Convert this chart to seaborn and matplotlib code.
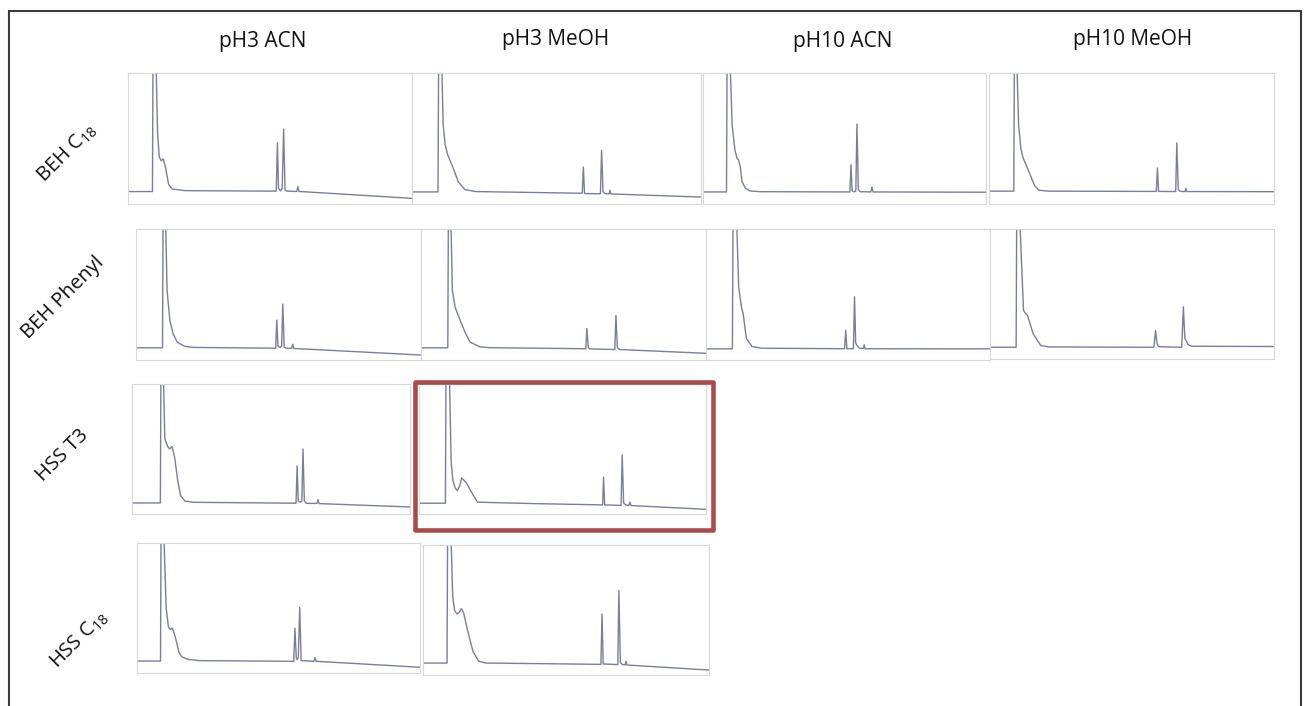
import matplotlib
matplotlib.use("Agg")
import matplotlib.pyplot as plt
from matplotlib.patches import Rectangle
from matplotlib.lines import Line2D
import pandas as pd
import seaborn as sns

sns.set_theme(style="white")
plt.rcParams["font.family"] = ["Open Sans", "DejaVu Sans"]
plt.rcParams["mathtext.default"] = "regular"

# ---------------- data (x: % of run time, y: % of full scale) ----------------
columns = ["pH3 ACN", "pH3 MeOH", "pH10 ACN", "pH10 MeOH"]
rows = ["BEH C$_{18}$", "BEH Phenyl", "HSS T3", "HSS C$_{18}$"]
highlight = ("HSS T3", "pH3 MeOH")

beh_c18_ph3_acn_t = [0, 8.6, 8.8, 9.9, 10.4, 11.0, 11.7, 12.4, 13.3, 14.3, 15.5, 20, 52.2, 52.6, 53.0, 53.7, 54.3, 54.8, 55.3, 56, 59.4, 59.8, 60.2, 100]
beh_c18_ph3_acn_s = [9.5, 9.5, 106, 106, 55, 36, 33, 34.5, 27, 15, 11.5, 10.2, 9.8, 46.7, 12, 10, 12, 57.2, 10.5, 9.8, 9.6, 13.3, 9.6, 4.3]

beh_c18_ph3_meoh_t = [0, 9.0, 9.2, 10.3, 10.8, 11.5, 12.3, 13.2, 14.5, 16, 18.3, 22, 58.9, 59.3, 59.7, 65.2, 65.6, 66.1, 66.8, 68.2, 68.5, 68.8, 100]
beh_c18_ph3_meoh_s = [9.2, 9.2, 106, 106, 60, 45, 38, 33, 26, 17, 11, 9.5, 8.2, 28.2, 8.0, 7.8, 41, 9.5, 8.0, 7.8, 10.5, 7.7, 5.3]

beh_c18_ph10_acn_t = [0, 8.3, 8.5, 9.6, 10.3, 11.3, 12.0, 12.6, 13.2, 13.8, 15, 16.6, 20, 51.9, 52.3, 52.7, 53.4, 54.0, 54.4, 54.9, 55.6, 59.3, 59.7, 60.1, 100]
beh_c18_ph10_acn_s = [9.2, 9.2, 106, 106, 60, 41, 35, 33.5, 28, 17, 12, 10, 9.4, 9.2, 30, 10, 9.3, 10, 61, 11, 9.4, 9.2, 13, 9.2, 9.0]

beh_c18_ph10_meoh_t = [0, 8.7, 8.9, 9.8, 10.4, 11.2, 12.0, 13.0, 14.5, 16, 17.5, 21, 58.7, 59.1, 59.5, 65.5, 65.9, 66.4, 67.2, 68.8, 69.1, 69.4, 100]
beh_c18_ph10_meoh_s = [9.8, 9.8, 106, 106, 60, 42, 35, 30, 22, 14, 10.5, 9.8, 9.6, 27.5, 9.6, 9.5, 46.6, 11, 9.6, 9.5, 12, 9.5, 9.4]

beh_ph_ph3_acn_t = [0, 9.3, 9.5, 10.4, 10.9, 11.9, 13.0, 14.5, 17, 20, 49.0, 49.4, 49.8, 50.5, 51.1, 51.5, 52.0, 52.7, 54.6, 55.0, 55.4, 100]
beh_ph_ph3_acn_s = [9.3, 9.3, 106, 106, 53, 30, 20, 13.5, 10.5, 9.6, 9.0, 30.5, 10.5, 9.5, 10.5, 42.7, 10, 9, 8.9, 12, 8.8, 3.8]

beh_ph_ph3_meoh_t = [0, 9.4, 9.6, 10.5, 11.0, 12.0, 13.7, 15.5, 17.2, 20.7, 24, 57.8, 58.2, 58.7, 59.3, 68.0, 68.4, 68.9, 69.7, 100]
beh_ph_ph3_meoh_s = [9.3, 9.3, 106, 106, 53, 40, 30.5, 21, 13.7, 10, 9.4, 8.6, 24, 9.5, 8.5, 8.0, 34, 9.5, 8.0, 5.1]

beh_ph_ph10_acn_t = [0, 9.3, 9.5, 10.8, 11.5, 12.5, 13.1, 14.2, 16.2, 19.5, 48.8, 49.2, 49.6, 51.9, 52.3, 52.7, 53.2, 54, 55.4, 55.7, 56.0, 100]
beh_ph_ph10_acn_s = [8.5, 8.5, 106, 106, 56, 40, 35, 16.5, 10.3, 9.0, 8.6, 22.7, 8.6, 8.6, 48.3, 13, 11, 9, 8.8, 11.6, 8.6, 8.5]

beh_ph_ph10_meoh_t = [0, 9.2, 9.4, 10.5, 11.8, 12.5, 13.2, 15.2, 17.9, 20.6, 57.7, 58.3, 58.8, 59.4, 67.5, 68.1, 68.6, 69.7, 71, 100]
beh_ph_ph10_meoh_s = [9, 9, 106, 106, 37.5, 35, 33.6, 19.4, 10.3, 9.3, 9, 22, 12, 9.5, 9, 40.1, 16, 11.2, 9.8, 9.6]

hss_t3_ph3_acn_t = [0, 10.2, 10.4, 11.3, 11.8, 12.8, 13.6, 14.4, 15.3, 16.5, 17.5, 19, 22, 59.0, 59.4, 59.8, 60.5, 61.1, 61.5, 62.0, 62.7, 66.5, 66.9, 67.3, 100]
hss_t3_ph3_acn_s = [8.5, 8.5, 106, 106, 58, 52, 50, 52, 44, 25, 14, 10, 9, 8.3, 37, 10, 9, 10, 50, 10, 8.2, 8.1, 11, 8.0, 5.4]

hss_t3_ph3_meoh_t = [0, 9.2, 9.4, 10.6, 11.2, 11.8, 12.6, 13.4, 14.2, 14.9, 16.5, 18.5, 20.4, 40, 64.0, 64.3, 64.7, 70.4, 70.8, 71.3, 72.0, 73.1, 73.5, 73.9, 100]
hss_t3_ph3_meoh_s = [8.3, 8.3, 106, 106, 40, 26, 20, 18, 22, 27.7, 24, 16, 9.1, 8, 7.0, 28.4, 7.0, 6.6, 45.5, 8.5, 7.0, 6.6, 9.1, 6.5, 3.6]

hss_c18_ph3_acn_t = [0, 8.3, 8.5, 9.5, 10.3, 11.1, 11.8, 12.5, 13.5, 14.8, 15.8, 18, 22.3, 55.4, 55.8, 56.3, 56.7, 57.0, 57.5, 58.0, 62.5, 62.9, 63.3, 100]
hss_c18_ph3_acn_s = [9.2, 9.2, 106, 106, 50, 35.6, 33.5, 34.5, 28, 16, 12.5, 10.5, 9.5, 9.0, 34.4, 11, 10.5, 12, 50.5, 9.5, 9.0, 11.8, 9.0, 4.4]

hss_c18_ph3_meoh_t = [0, 8.4, 8.6, 9.8, 10.4, 11.0, 11.8, 12.6, 13.4, 14.2, 15.5, 17.5, 19.5, 22, 62.2, 62.6, 63.0, 68.1, 68.5, 69.0, 69.8, 70.7, 71.0, 71.3, 100]
hss_c18_ph3_meoh_s = [9.2, 9.2, 106, 106, 60, 50, 47, 48, 51, 48, 35, 18, 10.5, 9.2, 8.2, 47, 8.5, 8.0, 65, 9.5, 8.0, 7.8, 10.5, 7.7, 3.8]

traces = {
    (0, 0): (beh_c18_ph3_acn_t, beh_c18_ph3_acn_s),
    (0, 1): (beh_c18_ph3_meoh_t, beh_c18_ph3_meoh_s),
    (0, 2): (beh_c18_ph10_acn_t, beh_c18_ph10_acn_s),
    (0, 3): (beh_c18_ph10_meoh_t, beh_c18_ph10_meoh_s),
    (1, 0): (beh_ph_ph3_acn_t, beh_ph_ph3_acn_s),
    (1, 1): (beh_ph_ph3_meoh_t, beh_ph_ph3_meoh_s),
    (1, 2): (beh_ph_ph10_acn_t, beh_ph_ph10_acn_s),
    (1, 3): (beh_ph_ph10_meoh_t, beh_ph_ph10_meoh_s),
    (2, 0): (hss_t3_ph3_acn_t, hss_t3_ph3_acn_s),
    (2, 1): (hss_t3_ph3_meoh_t, hss_t3_ph3_meoh_s),
    (3, 0): (hss_c18_ph3_acn_t, hss_c18_ph3_acn_s),
    (3, 1): (hss_c18_ph3_meoh_t, hss_c18_ph3_meoh_s),
}

# ---------------- layout (pixels: left, top, right, bottom) ----------------
W, H = 1306, 706
panel_box = {
    (0, 0): (128, 73, 412, 204), (0, 1): (412, 73, 701, 204),
    (0, 2): (703, 73, 986, 204), (0, 3): (989, 73, 1274, 204),
    (1, 0): (136, 229, 421, 360), (1, 1): (421, 229, 706, 360),
    (1, 2): (706, 229, 990, 360), (1, 3): (990, 229, 1274, 359),
    (2, 0): (132, 384, 410, 514), (2, 1): (419, 384, 706, 514),
    (3, 0): (137, 543, 420, 673), (3, 1): (423, 545, 709, 675),
}
col_title_pos = [(263, 42), (556, 40), (843, 42), (1133, 40)]
row_label_pos = [(67, 153), (63, 298), (62, 455), (79, 640)]

trace_color = "#7a7e98"
frame_color = "#d7d7d7"

fig = plt.figure(figsize=(W / 100, H / 100), dpi=100)
fig.patch.set_facecolor("white")

for (r, c), (l, t, rr, b) in panel_box.items():
    ax = fig.add_axes([l / W, 1 - b / H, (rr - l) / W, (b - t) / H])
    xs, ys = traces[(r, c)]
    df = pd.DataFrame({"time": xs, "signal": ys})
    sns.lineplot(data=df, x="time", y="signal", ax=ax, color=trace_color,
                 linewidth=1.0, sort=False, estimator=None)
    ax.set_xlim(0, 100)
    ax.set_ylim(0, 100)
    ax.set_xticks([])
    ax.set_yticks([])
    ax.set_xlabel("")
    ax.set_ylabel("")
    ax.set_facecolor("white")
    for sp in ax.spines.values():
        sp.set_color(frame_color)
        sp.set_linewidth(0.8)

# highlight box around HSS T3 / pH3 MeOH
fig.add_artist(Rectangle((414.5 / W, 1 - 529.5 / H), (712.5 - 414.5) / W, (529.5 - 381.5) / H,
                         transform=fig.transFigure, fill=False, edgecolor="#a94b4b",
                         linewidth=3.3, joinstyle="round", zorder=5))

# outer frame
for xs_, ys_ in [((9, 9), (11, 706)), ((9, 1301), (11, 11)), ((1301, 1301), (11, 706))]:
    fig.add_artist(Line2D([x / W for x in xs_], [1 - y / H for y in ys_],
                          transform=fig.transFigure, color="#3a3a3a", linewidth=1.5))

for name, (x, y) in zip(columns, col_title_pos):
    fig.text(x / W, 1 - y / H, name, ha="center", va="center", fontsize=15, color="#111111")

for name, (x, y) in zip(rows, row_label_pos):
    fig.text(x / W, 1 - y / H, name, ha="center", va="center", fontsize=14.5,
             rotation=45, rotation_mode="anchor", color="#111111")

fig.savefig("out.png", dpi=100, facecolor="white")
